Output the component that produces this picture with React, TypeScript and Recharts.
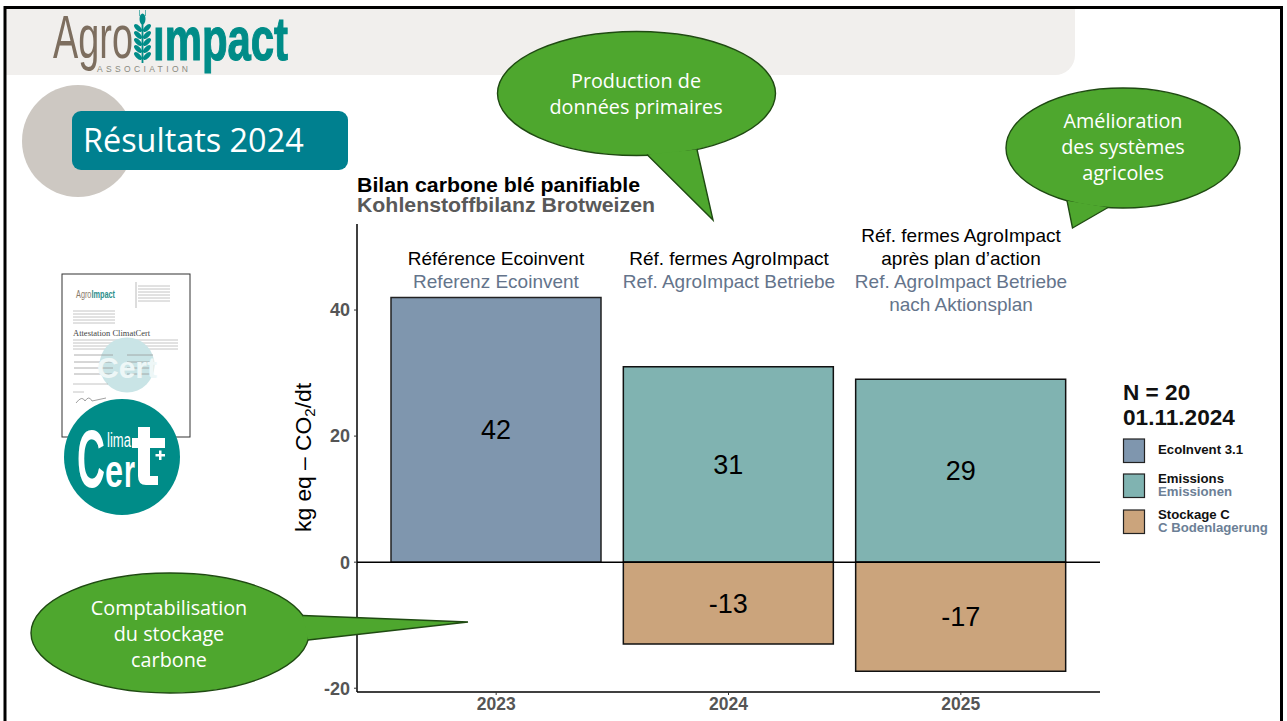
import { Bar, BarChart, LabelList, ReferenceLine, XAxis, YAxis } from "recharts";

// ── Data ──────────────────────────────────────────────────────

const YEARS = ["2023", "2024", "2025"];
const ECOINVENT = [42, null, null];
const EMISSIONS = [null, 31, 29];
const STOCKAGE = [null, -13, -17.3];
const Y_TICKS = [-20, 0, 20, 40];

const COL_FR = [["Référence Ecoinvent"], ["Réf. fermes AgroImpact"], ["Réf. fermes AgroImpact", "après plan d’action"]];
const COL_DE = [["Referenz Ecoinvent"], ["Ref. AgroImpact Betriebe"], ["Ref. AgroImpact Betriebe", "nach Aktionsplan"]];

const COLORS = { ecoinvent: "#7f96ae", emissions: "#80b3b1", stockage: "#cba47c" };
const GREEN = "#4ea72e";
const GREEN_DARK = "#1f4a12";
const TEAL = "#00808f";
const LOGO_TEAL = "#008c88";
const SANS = "'Liberation Sans', Arial, sans-serif";
const NARROW = "'Liberation Sans Narrow', 'Liberation Sans', sans-serif";
const SLIDE = "'Open Sans', sans-serif";

const chartData = YEARS.map((year, i) => ({
  year,
  ecoinvent: ECOINVENT[i],
  emissions: EMISSIONS[i],
  stockage: STOCKAGE[i],
}));

const roundLabel = (v: any) => (v == null ? "" : Math.round(Number(v)));

function YLabel() {
  return (
    <text transform="translate(311,457.5) rotate(-90)" textAnchor="middle" fontFamily={SANS} fontSize={22.8} fill="#000">
      kg eq – CO<tspan dy={4} fontSize={15}>2</tspan>
      <tspan dy={-4}>/dt</tspan>
    </text>
  );
}

// ── Chart ─────────────────────────────────────────────────────

function Chart() {
  const valueLabel = { fontFamily: SANS, fontSize: 27, fill: "#000" };
  return (
    <BarChart
      width={1287}
      height={721}
      data={chartData}
      stackOffset="sign"
      barCategoryGap={11}
      margin={{ top: 224, right: 187, bottom: 0, left: 297 }}
    >
      <XAxis
        dataKey="year"
        height={29}
        padding={{ left: 23, right: 23 }}
        axisLine={{ stroke: "#000", strokeWidth: 1.5 }}
        tickLine={{ stroke: "#333" }}
        tickSize={3}
        tickMargin={3}
        tick={{ fontFamily: SANS, fontSize: 17.5, fontWeight: 700, fill: "#555" }}
      />
      <YAxis
        width={60}
        type="number"
        domain={[-20.6, 53.65]}
        ticks={Y_TICKS}
        allowDataOverflow
        axisLine={{ stroke: "#000", strokeWidth: 1.5 }}
        tickLine={{ stroke: "#333" }}
        tickSize={3}
        tickMargin={4}
        tick={{ fontFamily: SANS, fontSize: 18, fontWeight: 700, fill: "#555" }}
      />
      <Bar dataKey="ecoinvent" stackId="a" fill={COLORS.ecoinvent} stroke="#222" strokeWidth={1.5} isAnimationActive={false}>
        <LabelList dataKey="ecoinvent" position="center" formatter={roundLabel} style={valueLabel} />
      </Bar>
      <Bar dataKey="emissions" stackId="a" fill={COLORS.emissions} stroke="#111" strokeWidth={1.5} isAnimationActive={false}>
        <LabelList dataKey="emissions" position="center" formatter={roundLabel} style={valueLabel} />
      </Bar>
      <Bar dataKey="stockage" stackId="a" fill={COLORS.stockage} stroke="#111" strokeWidth={1.5} isAnimationActive={false}>
        <LabelList dataKey="stockage" position="center" formatter={roundLabel} style={valueLabel} />
      </Bar>
      <ReferenceLine y={0} stroke="#000" strokeWidth={1.5} />
    </BarChart>
  );
}

// ── Slide pieces ──────────────────────────────────────────────

function Callout({ cx, cy, rx, ry, path, lines, ly, tx }: any) {
  return (
    <g>
      <ellipse cx={cx} cy={cy} rx={rx} ry={ry} fill={GREEN} stroke={GREEN_DARK} strokeWidth={1.4} />
      <path d={path} fill={GREEN} stroke={GREEN_DARK} strokeWidth={1.4} strokeLinejoin="miter" />
      {lines.map((l: string, i: number) => (
        <text key={l} x={tx} y={ly + i * 26} textAnchor="middle" fontFamily={SLIDE} fontSize={19.8} fill="#fff">
          {l}
        </text>
      ))}
    </g>
  );
}

function Wheat() {
  const leaves = [28, 35, 42, 49, 56];
  return (
    <g fill={LOGO_TEAL}>
      <rect x={141.6} y={20} width={1.8} height={43} />
      <ellipse cx={142.5} cy={19} rx={3} ry={5.5} />
      <rect x={139} y={10} width={1} height={6} opacity={0.6} />
      <rect x={145} y={10} width={1} height={6} opacity={0.6} />
      {leaves.map((y) => (
        <g key={y}>
          <ellipse cx={138} cy={y} rx={2.3} ry={5} transform={`rotate(-45 138 ${y})`} />
          <ellipse cx={147} cy={y} rx={2.3} ry={5} transform={`rotate(45 147 ${y})`} />
        </g>
      ))}
    </g>
  );
}

function Certificate() {
  const addressLeft = [311, 314, 317, 320, 323];
  const addressRight = [286, 289, 292, 295, 298, 301];
  const paragraph = [340, 343, 346, 349];
  const rows = [355, 362, 368, 374];
  const light = { stroke: "#b5b5b5", strokeWidth: 0.8 };
  return (
    <g>
      <rect x={62} y={274} width={128} height={163} fill="#fff" stroke="#333" strokeWidth={1} />
      <text x={76} y={298} fontFamily={NARROW} fontSize={10} fill="#8a7c6c" textLength={39} lengthAdjust="spacingAndGlyphs">
        Agro<tspan fontWeight={700} fill="#2d8f8c">Impact</tspan>
      </text>
      <line x1={136} y1={282} x2={136} y2={308} stroke="#bbb" />
      {addressRight.map((y) => (
        <line key={y} x1={138} y1={y} x2={170} y2={y} {...light} />
      ))}
      {addressLeft.map((y) => (
        <line key={y} x1={73} y1={y} x2={115} y2={y} {...light} />
      ))}
      <text x={73} y={336} fontFamily="'Liberation Serif', serif" fontSize={8.5} fill="#444">
        Attestation ClimatCert
      </text>
      {paragraph.map((y) => (
        <line key={y} x1={73} y1={y} x2={178} y2={y} {...light} />
      ))}
      <circle cx={127} cy={365} r={27.5} fill="#c9e4e6" />
      {rows.map((y) => (
        <g key={y}>
          <line x1={74} y1={y} x2={113} y2={y} stroke="#999" strokeWidth={0.8} />
          <line x1={127} y1={y} x2={153} y2={y} stroke="#999" strokeWidth={0.8} />
        </g>
      ))}
      <text x={127} y={378} textAnchor="middle" fontFamily={NARROW} fontWeight={700} fontSize={30} fill="#eef7f7">
        Cert
      </text>
      <line x1={73} y1={384} x2={108} y2={384} {...light} />
      <line x1={73} y1={392} x2={84} y2={392} {...light} />
      <path d="M76 403 q6 -8 9 -2 q4 -6 7 0 l14 -3" fill="none" stroke="#888" strokeWidth={0.8} />
    </g>
  );
}

function ClimaCertBadge() {
  return (
    <g>
      <circle cx={122} cy={457} r={58} fill={LOGO_TEAL} />
      <text x={77} y={487} fontFamily={NARROW} fontWeight={700} fontSize={82} fill="#fff" textLength={28} lengthAdjust="spacingAndGlyphs">
        C
      </text>
      <text x={107} y={447} fontFamily={NARROW} fontSize={20} fill="#fff" textLength={24} lengthAdjust="spacingAndGlyphs">
        lima
      </text>
      <text x={105} y={487} fontFamily={NARROW} fontWeight={700} fontSize={46} fill="#fff" textLength={18} lengthAdjust="spacingAndGlyphs">
        e
      </text>
      <text x={124} y={487} fontFamily={NARROW} fontWeight={700} fontSize={46} fill="#fff" textLength={11} lengthAdjust="spacingAndGlyphs">
        r
      </text>
      <path d="M138 427 H150 V438 H165 V448 H150 V476 H158 V485 H146 Q138 485 138 476 V448 H132 V438 H138 Z" fill="#fff" />
      <path d="M155.5 454 H159 V450.5 H161.5 V454 H165 V456.5 H161.5 V460 H159 V456.5 H155.5 Z" fill="#fff" />
    </g>
  );
}

function LegendBlock() {
  const items = [
    { y: 439, color: COLORS.ecoinvent, fr: "EcoInvent 3.1", de: "" },
    { y: 474, color: COLORS.emissions, fr: "Emissions", de: "Emissionen" },
    { y: 510, color: COLORS.stockage, fr: "Stockage C", de: "C Bodenlagerung" },
  ];
  return (
    <g fontFamily={SANS} fontWeight={700}>
      <text x={1123} y={400} fontSize={22.6} fill="#111">N = 20</text>
      <text x={1123} y={425} fontSize={22.6} fill="#111">01.11.2024</text>
      {items.map((it) => (
        <g key={it.fr}>
          <rect x={1123.5} y={it.y} width={21} height={23.5} fill={it.color} stroke="#222" strokeWidth={1.2} />
          <text x={1158} y={it.de ? it.y + 9 : it.y + 15} fontSize={13.2} fill="#111">{it.fr}</text>
          {it.de && <text x={1158} y={it.y + 21.5} fontSize={13.2} fill="#6c7f96">{it.de}</text>}
        </g>
      ))}
    </g>
  );
}

function ColumnHeads() {
  const xs = [496, 729, 961];
  return (
    <g fontFamily={SANS} fontSize={19} textAnchor="middle">
      {xs.map((x, i) => {
        const two = COL_FR[i].length > 1;
        const top = two ? 242 : 265;
        return (
          <g key={x}>
            {COL_FR[i].map((l, j) => (
              <text key={j} x={x} y={top + j * 23} fill="#000">{l}</text>
            ))}
            {COL_DE[i].map((l, j) => (
              <text key={j} x={x} y={288 + j * 23} fill="#64748b">{l}</text>
            ))}
          </g>
        );
      })}
    </g>
  );
}

function Overlay() {
  return (
    <svg width={1287} height={721} style={{ position: "absolute", left: 0, top: 0 }}>
      <Callout
        cx={636.5} cy={93.5} rx={139} ry={62}
        path="M647 154.5 L713 220 L697 149.5"
        lines={["Production de", "données primaires"]}
        tx={636}
        ly={88}
      />
      <Callout
        cx={1123} cy={148} rx={117} ry={60}
        path="M1067 200.7 L1072.5 228 L1108 207.5"
        lines={["Amélioration", "des systèmes", "agricoles"]}
        tx={1123}
        ly={128}
      />
      <Callout
        cx={170} cy={633} rx={139} ry={60}
        path="M302.7 615.5 L468 622 L308 640"
        lines={["Comptabilisation", "du stockage", "carbone"]}
        tx={169}
        ly={615}
      />
      <text x={357} y={192} fontFamily={SANS} fontWeight={700} fontSize={20.5} fill="#000" textLength={283} lengthAdjust="spacingAndGlyphs">Bilan carbone blé panifiable</text>
      <text x={357} y={212} fontFamily={SANS} fontWeight={700} fontSize={20.5} fill="#595959" textLength={298} lengthAdjust="spacingAndGlyphs">Kohlenstoffbilanz Brotweizen</text>
      <ColumnHeads />
      <YLabel />
      <LegendBlock />
      <Certificate />
      <ClimaCertBadge />
    </svg>
  );
}

function Background() {
  return (
    <svg width={1287} height={721} style={{ position: "absolute", left: 0, top: 0 }}>
      <rect width={1287} height={721} fill="#fff" />
      <path d="M5 8 H1075 V55 A20 20 0 0 1 1055 75 H5 Z" fill="#f1efed" />
      <circle cx={78} cy={141} r={56} fill="#cdc8c2" />
      <rect x={72} y={111} width={276} height={59} rx={9} fill={TEAL} />
      <text x={83} y={152} fontFamily={SLIDE} fontSize={32.4} fill="#fff">Résultats 2024</text>
      <text x={53} y={58} fontFamily={NARROW} fontSize={62} fill="#7d6e5f" textLength={80} lengthAdjust="spacingAndGlyphs">Agro</text>
      <Wheat />
      <text x={153} y={60} fontFamily={NARROW} fontWeight={700} fontSize={62} fill={LOGO_TEAL} stroke={LOGO_TEAL} strokeWidth={1.2} textLength={135} lengthAdjust="spacingAndGlyphs">ımpact</text>
      <text x={97} y={71.5} fontFamily={SANS} fontSize={8.5} fill="#8a8a80" textLength={91}>ASSOCIATION</text>
      <path d="M5 721 V7.5 H1281.5 V721" fill="none" stroke="#000" strokeWidth={3} />
    </svg>
  );
}

export default function App() {
  return (
    <div style={{ position: "absolute", left: 0, top: 0, width: 1287, height: 721, overflow: "hidden" }}>
      <Background />
      <div style={{ position: "absolute", left: 0, top: 0 }}>
        <Chart />
      </div>
      <Overlay />
    </div>
  );
}
